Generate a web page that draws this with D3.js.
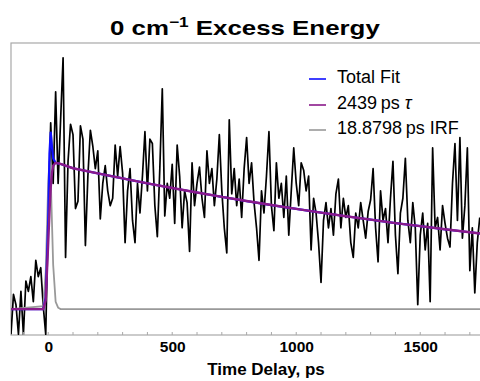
<!DOCTYPE html>
<html>
<head>
<meta charset="utf-8">
<script src="https://cdn.jsdelivr.net/npm/d3@7"></script>
<style>
  html, body { margin: 0; padding: 0; background: #fff; }
  svg { display: block; }
  text { font-family: "Liberation Sans", Arial, sans-serif; }
</style>
</head>
<body>
<svg id="chart" width="480" height="381"></svg>
<script>
// ---------------- data ----------------
const title = "0 cm";
const titleSup = "\u22121";
const titleRest = " Excess Energy";
const xAxisTitle = "Time Delay, ps";
const xTickValues = [0, 500, 1000, 1500];
const legendLabels = ["Total Fit", "2439\u2009ps", "18.8798\u2009ps IRF"];
const legendColors = ["#1010ff", "#8a1a8a", "#999999"];

// measured signal, one point every 10 ps starting at -150 ps
const dataStart = -150;
const dataStep = 10;
const signal = [
  -0.17, 0.10, 0.03, -0.17, 0.12, -0.17, 0.19, 0.12, 0.22, 0.05,
  0.33, 0.22, 0.28, 0.02, -0.17, 0.60, 1.26, 0.85, 1.47, 0.85,
  1.28, 1.70, 0.35, 1.00, 1.25, 1.18, 0.68, 0.73, 1.24, 1.15,
  0.43, 0.90, 1.21, 1.10, 0.95, 1.07, 0.61, 0.85, 0.97, 0.80,
  0.70, 0.75, 1.11, 0.90, 1.10, 0.92, 0.45, 0.80, 0.95, 0.60,
  0.45, 0.85, 0.65, 0.90, 1.20,
  0.80, 1.15, 1.12, 0.70, 0.49, 0.95, 1.49, 0.63, 0.85, 0.75,
  0.98, 0.58, 1.11, 0.90, 0.55, 0.80, 0.72, 0.39, 0.99, 0.70,
  0.85, 0.96, 0.75, 0.62, 1.07, 0.85, 0.95, 0.70, 0.88, 1.18,
  0.80, 0.55, 0.38, 1.28, 0.78, 0.95, 0.70, 0.88, 0.62, 0.95,
  1.16, 0.85, 0.99, 0.72, 0.55, 0.33, 0.80, 0.65, 0.90, 1.20,
  0.70, 0.53, 0.99, 0.75, 0.85, 0.62, 0.90, 0.50, 0.80, 1.09,
  0.85, 0.70, 0.99, 0.94, 0.80, 0.90, 0.40, 0.75, 0.65, 0.45,
  0.18, 0.60, 0.72, 0.55, 0.68, 0.50, 0.78, 0.88, 0.55, 0.75,
  0.62, 0.70, 0.45, 0.35, 0.65, 0.55, 0.72, 0.60, 0.48, 0.66,
  0.74, 0.95, 0.55, 0.32, 0.80, 0.60, 0.68, 0.45, 0.75, 1.00,
  0.50, 0.24, 0.65, 0.75, 1.02, 0.60, 0.45, 0.72, 0.55, 0.03,
  0.50, 0.65, 0.40, 0.58, 0.05, 1.09, 0.55, 0.62, 0.40, 0.70,
  0.58, 0.48, 0.42, 0.85, 1.12, 0.60, 1.16, 0.48, 0.70, 1.09,
  0.26, 0.55, 0.11, 0.45, 0.62
];

// fit curves (time in ps)
const fitTimes = [-150, -20, -10, 0, 5, 10, 15, 20, 30, 40, 50, 100, 200, 300, 400, 500,
  600, 700, 800, 900, 1000, 1100, 1200, 1300, 1400, 1500, 1600, 1700, 1745];
const totalFit = [0, 0, 0.08, 0.60, 1.05, 1.20, 1.10, 1.02, 0.99, 0.986, 0.982, 0.953, 0.918, 0.884, 0.851, 0.819,
  0.789, 0.759, 0.731, 0.704, 0.678, 0.653, 0.628, 0.605, 0.582, 0.561, 0.540, 0.520, 0.511];
const decayFit = [0, 0, 0.06, 0.45, 0.65, 0.82, 0.92, 0.97, 0.99, 0.986, 0.982, 0.953, 0.918, 0.884, 0.851, 0.819,
  0.789, 0.759, 0.731, 0.704, 0.678, 0.653, 0.628, 0.605, 0.582, 0.561, 0.540, 0.520, 0.511];
const irfFit = [0, 0.02, 0.25, 0.85, 1.00, 0.90, 0.60, 0.30, 0.05, 0.01, 0, 0, 0, 0, 0, 0,
  0, 0, 0, 0, 0, 0, 0, 0, 0, 0, 0, 0, 0];

// ---------------- drawing ----------------
(function () {
  const svg = d3.select("#chart");
  const pL = 11, pR = 482, pT = 43, pB = 335;

  const x = d3.scaleLinear().domain([-150, 1745]).range([pL, 481]);
  const y = d3.scaleLinear().domain([-0.175, 1.8]).range([pB, pT]);

  svg.append("defs").append("clipPath").attr("id", "clip")
    .append("rect").attr("x", pL).attr("y", pT).attr("width", pR - pL).attr("height", pB - pT);

  // frame
  svg.append("rect").attr("x", pL).attr("y", pT).attr("width", pR - pL + 5).attr("height", pB - pT)
    .attr("fill", "none").attr("stroke", "#a8a8a8").attr("stroke-width", 1.2);

  const g = svg.append("g").attr("clip-path", "url(#clip)");

  const sigPts = signal.map((v, i) => [dataStart + i * dataStep, v]);
  const line = d3.line().x(d => x(d[0])).y(d => y(d[1]));

  g.append("path").datum(sigPts).attr("d", line)
    .attr("fill", "none").attr("stroke", "#000").attr("stroke-width", 1.7).attr("stroke-linejoin", "round");

  g.append("path").datum(fitTimes.map((t, i) => [t, irfFit[i]])).attr("d", line)
    .attr("fill", "none").attr("stroke", legendColors[2]).attr("stroke-width", 1.8);
  g.append("path").datum(fitTimes.map((t, i) => [t, totalFit[i]])).attr("d", line)
    .attr("fill", "none").attr("stroke", legendColors[0]).attr("stroke-width", 2.2);
  g.append("path").datum(fitTimes.map((t, i) => [t, decayFit[i]])).attr("d", line)
    .attr("fill", "none").attr("stroke", legendColors[1]).attr("stroke-width", 2.4);

  // x axis
  const axis = d3.axisBottom(x).tickValues(xTickValues).tickSize(0).tickFormat(d3.format("d"));
  const ax = svg.append("g").attr("transform", `translate(0,${pB})`).call(axis);
  ax.select(".domain").remove();
  ax.selectAll("text").attr("dy", null).attr("y", 17)
    .attr("font-family", "Liberation Sans, Arial, sans-serif")
    .attr("font-size", 15.5).attr("font-weight", "bold").attr("fill", "#000");
  // minor ticks every 100 ps
  svg.append("g").selectAll("line").data(x.ticks(20).filter(d => d > -150)).join("line")
    .attr("x1", d => x(d)).attr("x2", d => x(d)).attr("y1", pB).attr("y2", pB - 3)
    .attr("stroke", "#a8a8a8").attr("stroke-width", 1);

  svg.append("text").attr("x", 266).attr("y", 375).attr("text-anchor", "middle")
    .attr("font-size", 17).attr("font-weight", "bold").text(xAxisTitle);

  // title
  const tt = svg.append("text").attr("font-size", 21).attr("font-weight", "bold").attr("y", 35);
  tt.append("tspan").text(title);
  tt.append("tspan").attr("font-size", 14).attr("dy", -8).text(titleSup);
  tt.append("tspan").attr("dy", 8).text(titleRest);
  const tw = tt.node().getComputedTextLength();
  const sx = 270 / tw;
  tt.attr("transform", `translate(110,0) scale(${sx},1)`);

  // legend
  const legY = [79, 105, 130];
  legendLabels.forEach((lab, i) => {
    svg.append("line").attr("x1", 309).attr("x2", 326).attr("y1", legY[i]).attr("y2", legY[i])
      .attr("stroke", legendColors[i]).attr("stroke-width", 1.6);
    const t = svg.append("text").attr("x", 337).attr("y", legY[i] + 4).attr("font-size", 18).text(lab);
    if (i === 1) t.append("tspan").attr("font-style", "italic").text(" \u03C4");
  });
})();
</script>
</body>
</html>
